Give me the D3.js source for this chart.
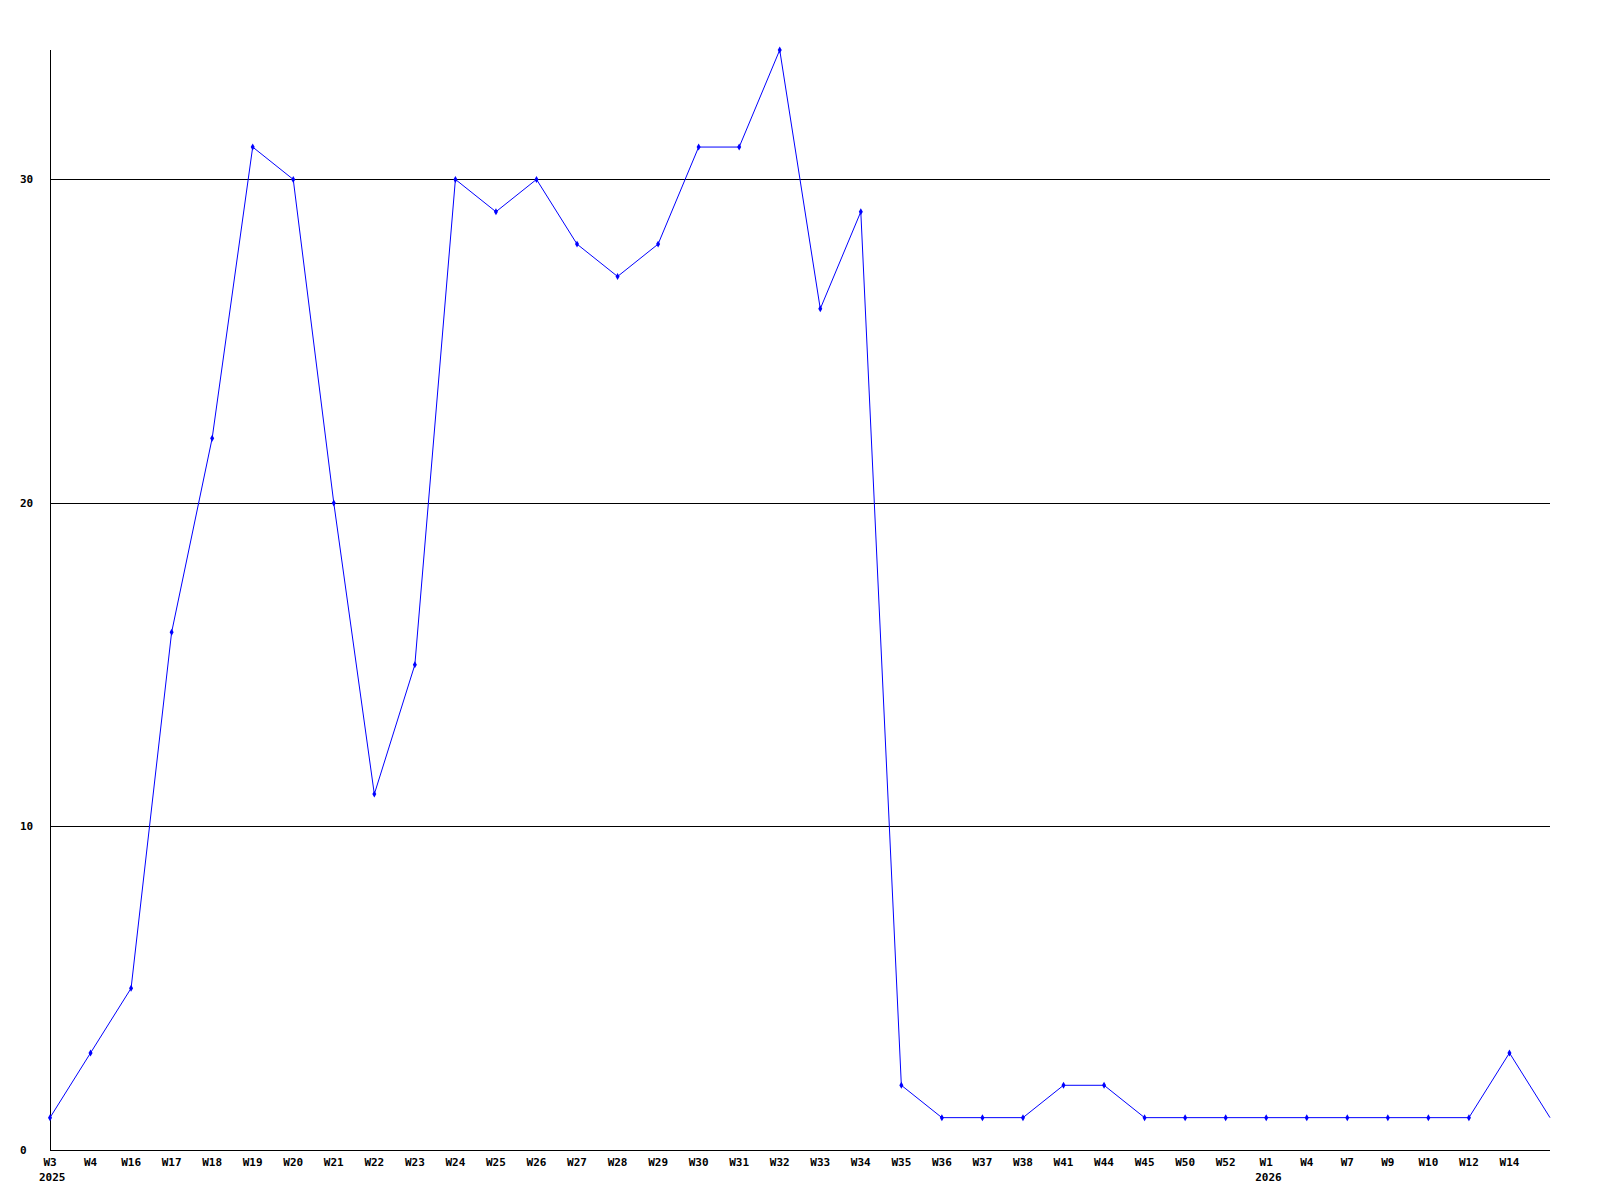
<!DOCTYPE html>
<html>
<head>
<meta charset="utf-8">
<script src="https://cdn.jsdelivr.net/npm/d3@7"></script>
<style>
  html, body { margin: 0; padding: 0; background: #fff; }
  svg { display: block; }
  text { font-family: "DejaVu Sans Mono", "Liberation Mono", monospace; font-weight: bold; font-size: 11px; fill: #000; }
</style>
</head>
<body>
<svg id="chart" width="1600" height="1200"></svg>
<script>
// Week labels along the x axis (final point has no label)
const weeks = ["W3","W4","W16","W17","W18","W19","W20","W21","W22","W23","W24","W25","W26",
  "W27","W28","W29","W30","W31","W32","W33","W34","W35","W36","W37","W38","W41","W44","W45",
  "W50","W52","W1","W4","W7","W9","W10","W12","W14",""];
// Year labels shown under specific weeks (by index)
const yearLabels = [{index: 0, text: "2025"}, {index: 30, text: "2026"}];
// Series values
const values = [1,3,5,16,22,31,30,20,11,15,30,29,30,28,27,28,31,31,34,26,29,2,1,1,1,2,2,1,1,1,1,1,1,1,1,1,3,1];
// Y tick values
const yTicks = [0,10,20,30];

(function () {
const svg = d3.select("#chart");
const mLeft = 50, mRight = 1550, mTop = 50, mBottom = 1150;

const x = d3.scaleLinear().domain([0, values.length - 1]).range([mLeft, mRight]);
const y = d3.scaleLinear().domain([0, 34]).range([mBottom, mTop]);

// gridlines
svg.append("g").selectAll("line").data(yTicks.filter(d => d > 0)).join("line")
  .attr("x1", mLeft).attr("x2", mRight)
  .attr("y1", d => Math.round(y(d)) + 0.5).attr("y2", d => Math.round(y(d)) + 0.5)
  .attr("stroke", "#000").attr("stroke-width", 1).attr("shape-rendering", "crispEdges");

// axes lines
svg.append("line").attr("x1", mLeft + 0.5).attr("x2", mLeft + 0.5).attr("y1", mTop).attr("y2", mBottom + 0.5)
  .attr("stroke", "#000").attr("shape-rendering", "crispEdges");
svg.append("line").attr("x1", mLeft).attr("x2", mRight).attr("y1", mBottom + 0.5).attr("y2", mBottom + 0.5)
  .attr("stroke", "#000").attr("shape-rendering", "crispEdges");

// y tick labels
svg.append("g").selectAll("text").data(yTicks).join("text")
  .attr("x", 20).attr("y", d => y(d)).attr("dy", "0.35em")
  .text(d => d);

// x tick labels
svg.append("g").selectAll("text").data(weeks.map((w, i) => ({w, i})).filter(d => d.w !== "")).join("text")
  .attr("x", d => x(d.i)).attr("y", 1162).attr("dy", "0.35em").attr("text-anchor", "middle")
  .text(d => d.w);

svg.append("g").selectAll("text").data(yearLabels).join("text")
  .attr("x", d => x(d.index) - 11).attr("y", 1177).attr("dy", "0.35em")
  .text(d => d.text);

// line
const line = d3.line().x((d, i) => x(i)).y(d => y(d));
svg.append("path").datum(values).attr("d", line)
  .attr("fill", "none").attr("stroke", "#0000ff").attr("stroke-width", 1);

// markers
svg.append("g").selectAll("path").data(values.map((v, i) => ({v, i})).filter(d => weeks[d.i] !== "")).join("path")
  .attr("d", d3.symbol().type(d3.symbolDiamond).size(14))
  .attr("transform", d => `translate(${x(d.i)},${y(d.v)})`)
  .attr("fill", "#0000ff");
})();
</script>
</body>
</html>
